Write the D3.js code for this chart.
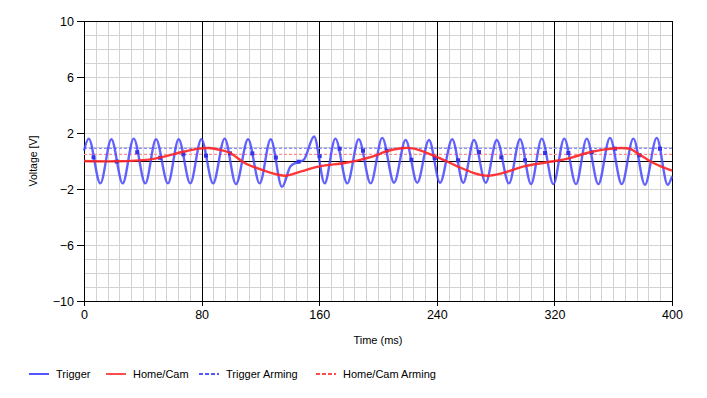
<!DOCTYPE html>
<html>
<head>
<meta charset="utf-8">
<script src="https://cdn.jsdelivr.net/npm/d3@7"></script>
<style>
  html, body { margin: 0; padding: 0; background: #fff; }
  svg text { font-family: "Liberation Sans", Arial, sans-serif; font-size: 11.5px; fill: #000; }
</style>
</head>
<body>
<div id="chart"></div>
<script>
// --- Data ---
const xTicks = [0, 80, 160, 240, 320, 400];
const yTicks = [-10, -6, -2, 2, 6, 10];

// Trigger trace: extremes (plus the glitch around 140 ms)
const triggerTime = [0, 3.2, 11.1, 18.6, 26.3, 33.8, 41.7, 49.0, 57.1, 64.4, 72.3, 79.8, 87.8, 95.7, 103.4,
  111.6, 119.5, 127.0, 134.7, 140.5, 145.0, 149.6, 156.5, 163.7, 171.0, 179.1, 186.9, 195.0, 202.9,
  210.9, 218.8, 226.7, 234.7, 242.2, 250.5, 258.0, 265.3, 273.3, 280.8, 289.1, 296.6, 304.1, 311.4,
  319.3, 326.7, 334.7, 342.0, 349.9, 357.8, 365.8, 373.7, 381.6, 389.6, 397.1, 400];
const triggerVolt = [0.75, 1.6, -1.6, 1.55, -1.6, 1.6, -1.6, 1.55, -1.6, 1.55, -1.6, 1.55, -1.6, 1.6, -1.65,
  1.55, -1.6, 1.55, -1.85, -0.38, -0.1, 0.1, 1.75, -1.6, 1.6, -1.6, 1.55, -1.6, 1.65,
  -1.55, 1.5, -1.55, 1.5, -1.55, 1.55, -1.55, 1.5, -1.55, 1.5, -1.6, 1.55, -1.65, 1.6,
  -1.65, 1.6, -1.65, 1.6, -1.65, 1.65, -1.65, 1.6, -1.7, 1.65, -1.7, -1.1];

// Sample markers drawn on the trigger trace
const markerTime = [6.5, 22.3, 36.2, 51.8, 67.6, 83.0, 99.3, 114.5, 130.5, 146.0, 160.3, 173.9, 189.8, 205.9,
  222.7, 238.6, 254.4, 268.7, 283.9, 300.0, 313.6, 329.5, 345.4, 361.2, 377.8, 391.8];
const markerVolt = [0.26, -0.04, 0.63, 0.23, 0.48, 0.38, 0.55, 0.54, 0.25, -0.05, 0.34, 0.88, 0.74, 0.74,
  0.09, 0.21, 0.05, 0.64, 0.26, 0.05, 0.57, 0.57, 0.62, 0.88, 0.41, 0.88];

// Home/Cam trace
const camTime = [0, 21.3, 44.0, 55.3, 66.7, 78.0, 84.8, 93.9, 99.5, 109.3, 120.6, 132.0, 137.6, 147.8, 160.3,
  177.3, 188.6, 200.0, 204.1, 217.7, 224.5, 233.5, 242.7, 254.0, 265.3, 274.4, 283.5, 299.3, 308.0,
  319.3, 330.6, 342.0, 353.3, 364.6, 371.4, 378.2, 387.3, 400];
const camVolt = [0.0, -0.02, 0.1, 0.33, 0.64, 0.88, 0.93, 0.76, 0.57, -0.14, -0.62, -0.98, -1.05, -0.74, -0.38,
  -0.14, 0.1, 0.45, 0.64, 0.93, 0.88, 0.57, 0.17, -0.38, -0.86, -1.05, -0.9, -0.38, -0.21,
  -0.02, 0.21, 0.57, 0.81, 0.93, 0.86, 0.45, -0.14, -0.69];

const triggerArming = 0.9;
const camArming = 0.48;

const legendNames = ["Trigger", "Home/Cam", "Trigger Arming", "Home/Cam Arming"];

// --- Layout ---
const width = 707, height = 398;
const margin = { left: 84, right: 35, top: 21, bottom: 97 };
const plotW = width - margin.left - margin.right;
const plotH = height - margin.top - margin.bottom;

const blue = "#4646ff", red = "#ff2424";

const svg = d3.select("#chart").append("svg")
  .attr("width", width).attr("height", height);

const x = d3.scaleLinear().domain([0, 400]).range([margin.left, margin.left + plotW]);
const y = d3.scaleLinear().domain([-10, 10]).range([margin.top + plotH, margin.top]);

// minor grid
const grid = svg.append("g").attr("shape-rendering", "crispEdges");
grid.selectAll(".vg").data(d3.range(0, 401, 8)).enter().append("line")
  .attr("x1", d => Math.round(x(d)) + 0.5).attr("x2", d => Math.round(x(d)) + 0.5)
  .attr("y1", y(10)).attr("y2", y(-10))
  .attr("stroke", "#d3d3d3").attr("stroke-width", 1);
grid.selectAll(".hg").data(d3.range(-10, 11, 1)).enter().append("line")
  .attr("y1", d => Math.round(y(d)) + 0.5).attr("y2", d => Math.round(y(d)) + 0.5)
  .attr("x1", x(0)).attr("x2", x(400))
  .attr("stroke", "#d3d3d3").attr("stroke-width", 1);

// major lines
grid.selectAll(".vm").data([80, 160, 240, 320]).enter().append("line")
  .attr("x1", d => Math.round(x(d)) + 0.5).attr("x2", d => Math.round(x(d)) + 0.5)
  .attr("y1", y(10)).attr("y2", y(-10))
  .attr("stroke", "#000").attr("stroke-width", 1);
grid.append("line")
  .attr("x1", x(0)).attr("x2", x(400))
  .attr("y1", Math.round(y(0)) + 0.5).attr("y2", Math.round(y(0)) + 0.5)
  .attr("stroke", "#000");

// plot frame
grid.append("rect")
  .attr("x", x(0) + 0.5).attr("y", y(10) + 0.5)
  .attr("width", plotW).attr("height", plotH)
  .attr("fill", "none").attr("stroke", "#000");

// arming levels
svg.append("line")
  .attr("x1", x(0)).attr("x2", x(400))
  .attr("y1", y(triggerArming)).attr("y2", y(triggerArming))
  .attr("stroke", "#8c8cff").attr("stroke-width", 1.2).attr("stroke-dasharray", "3,2");
svg.append("line")
  .attr("x1", x(0)).attr("x2", x(400))
  .attr("y1", y(camArming)).attr("y2", y(camArming))
  .attr("stroke", "#ff8c8c").attr("stroke-width", 1.2).attr("stroke-dasharray", "3,2");

// traces
const line = d3.line().x(d => x(d[0])).y(d => y(d[1])).curve(d3.curveMonotoneX);
const camPts = camTime.map((t, i) => [t, camVolt[i]]);
const trigPts = triggerTime.map((t, i) => [t, triggerVolt[i]]);

svg.append("path").datum(trigPts)
  .attr("d", line).attr("fill", "none")
  .attr("stroke", blue).attr("stroke-opacity", 0.85).attr("stroke-width", 2.4);

svg.selectAll(".mk").data(markerTime.map((t, i) => [t, markerVolt[i]])).enter().append("rect")
  .attr("x", d => x(d[0]) - 2).attr("y", d => y(d[1]) - 2)
  .attr("width", 4).attr("height", 4).attr("fill", "#3434e8");

svg.append("path").datum(camPts)
  .attr("d", d3.line().x(d => x(d[0])).y(d => y(d[1])).curve(d3.curveCatmullRom))
  .attr("fill", "none")
  .attr("stroke", red).attr("stroke-opacity", 0.9).attr("stroke-width", 2.4);

// axes
const yAxis = svg.append("g")
  .attr("transform", `translate(${x(0)},0)`)
  .call(d3.axisLeft(y).tickValues(yTicks).tickSize(7).tickPadding(3));
const xAxis = svg.append("g")
  .attr("transform", `translate(0,${y(-10)})`)
  .call(d3.axisBottom(x).tickValues(xTicks).tickSize(5).tickPadding(4));
[yAxis, xAxis].forEach(a => {
  a.select(".domain").remove();
  a.selectAll("line").attr("stroke", "#000").attr("shape-rendering", "crispEdges");
  a.selectAll("text").attr("font-size", null).attr("font-family", null);
});
yAxis.selectAll("text").attr("dy", "0.38em");
xAxis.selectAll("text").style("font-size", "12.5px");
yAxis.selectAll("text").style("font-size", "12.5px");

// axis titles
svg.append("text")
  .attr("transform", `translate(37,${y(0)}) rotate(-90)`)
  .attr("text-anchor", "middle").style("font-size", "10.5px")
  .text("Voltage [V]");
svg.append("text")
  .attr("x", (x(0) + x(400)) / 2).attr("y", 344)
  .attr("text-anchor", "middle").style("font-size", "11px")
  .text("Time (ms)");

// legend
const legendX = [29, 106, 199, 316];
const legend = svg.append("g").attr("transform", "translate(0,374)");
legendNames.forEach((name, i) => {
  const g = legend.append("g").attr("transform", `translate(${legendX[i]},0)`);
  g.append("line").attr("x1", 0).attr("x2", 20).attr("y1", 0).attr("y2", 0)
    .attr("stroke", i % 2 === 0 ? "#5555ff" : "#ff4d4d").attr("stroke-width", 2)
    .attr("stroke-dasharray", i >= 2 ? "4,2" : null);
  g.append("text").attr("x", 27).attr("y", 0).attr("dy", "0.36em")
    .style("font-size", "11px").text(name);
});
</script>
</body>
</html>
